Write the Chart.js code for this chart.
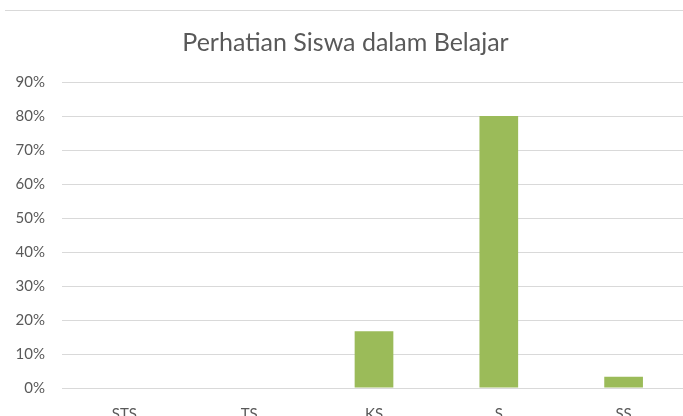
<!DOCTYPE html>
<html>
<head>
<meta charset="utf-8">
<script src="https://cdn.jsdelivr.net/npm/chart.js@4"></script>
<style>
  html, body { margin: 0; padding: 0; background: #fff; overflow: hidden; width: 683px; height: 416px; }
  #topLine { position: absolute; left: 5px; top: 10px; width: 700px; height: 0; border-top: 1px solid #d9d9d9; }
  #wrap { position: absolute; left: 5px; top: 10px; width: 700px; height: 420px; }
</style>
</head>
<body>
<div id="topLine"></div>
<div id="wrap"><canvas id="chart"></canvas></div>
<script>
  // chart data
  const categories = ['STS', 'TS', 'KS', 'S', 'SS'];
  const percentValues = [0, 0, 16.67, 80, 3.33];
  const yTicks = [0, 10, 20, 30, 40, 50, 60, 70, 80, 90];

  const TEXT = '#595959';
  const GRID = '#d9d9d9';
  const FONT = 'Lato, "Open Sans", sans-serif';

  new Chart(document.getElementById('chart').getContext('2d'), {
    type: 'bar',
    data: {
      labels: categories,
      datasets: [{
        label: 'Perhatian Siswa',
        data: percentValues,
        backgroundColor: '#9bbb59',
        borderWidth: 0,
        categoryPercentage: 1,
        barPercentage: 0.31
      }]
    },
    options: {
      responsive: true,
      maintainAspectRatio: false,
      animation: false,
      layout: { padding: { left: 0, right: 19, top: 0, bottom: 0 } },
      plugins: {
        legend: { display: false },
        tooltip: { enabled: false },
        title: {
          display: true,
          text: 'Perhatian Siswa dalam Belajar',
          color: TEXT,
          font: { family: FONT, size: 25, weight: 'normal' },
          padding: { top: 18, bottom: 24 }
        }
      },
      scales: {
        x: {
          grid: { display: false, drawTicks: false },
          border: { display: true, color: GRID, width: 1 },
          ticks: { color: TEXT, font: { family: FONT, size: 15 }, padding: 17 },
          afterFit: s => { s.height = 42; }
        },
        y: {
          min: 0,
          max: 90,
          afterBuildTicks: s => { s.ticks = yTicks.map(v => ({ value: v })); },
          grid: { color: GRID, lineWidth: 1, drawTicks: false },
          border: { display: false },
          ticks: {
            color: TEXT,
            font: { family: FONT, size: 15 },
            padding: 17,
            callback: v => v + '%'
          },
          afterFit: s => { s.width = 57; }
        }
      }
    }
  });
</script>
</body>
</html>
